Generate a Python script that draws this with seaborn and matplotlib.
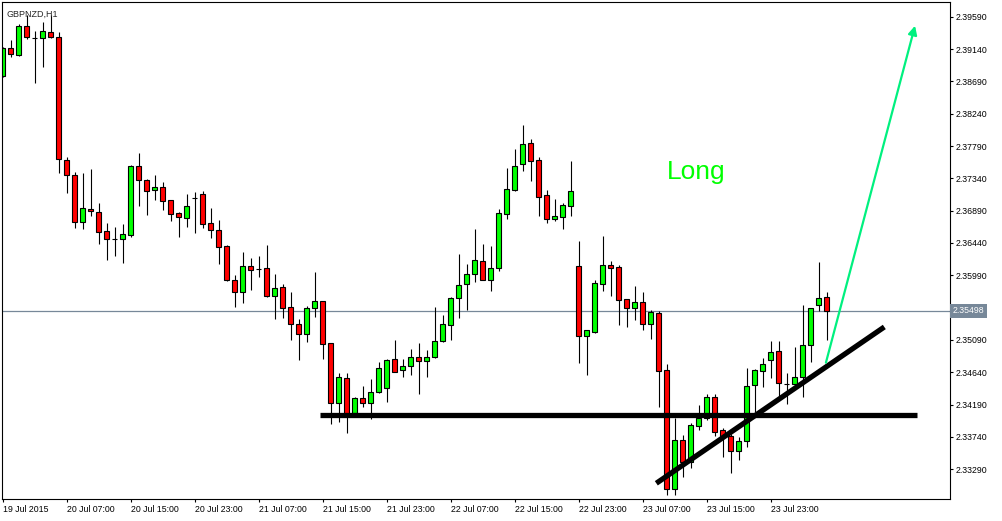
import matplotlib
matplotlib.use('Agg')
import matplotlib.pyplot as plt
import seaborn as sns
import numpy as np

# GBPNZD H1, bars from 19 Jul 2015 23:00 onwards (one per hour)
opens = [2.38765, 2.39150, 2.39053, 2.39461, 2.39298, 2.39289, 2.39373, 2.39303, 2.37591, 2.37387,
         2.36728, 2.36913, 2.36867, 2.36607, 2.36500, 2.36500, 2.36547, 2.37512, 2.37317, 2.37182,
         2.37215, 2.37034, 2.36858, 2.36792, 2.37066, 2.37122, 2.36718, 2.36621, 2.36398, 2.35921,
         2.35762, 2.36116, 2.36074, 2.36092, 2.35706, 2.35823, 2.35545, 2.35308, 2.35169, 2.35531,
         2.35628, 2.35044, 2.34209, 2.34557, 2.34069, 2.34278, 2.34209, 2.34362, 2.34417, 2.34821,
         2.34668, 2.34724, 2.34849, 2.34793, 2.34849, 2.35072, 2.35294, 2.35670, 2.35865, 2.36004,
         2.36185, 2.35929, 2.36088, 2.36839, 2.37182, 2.37535, 2.37828, 2.37595, 2.37108, 2.36770,
         2.36806, 2.36951, 2.36116, 2.35150, 2.35205, 2.35873, 2.36134, 2.36106, 2.35656, 2.35531,
         2.35614, 2.35319, 2.35466, 2.34668, 2.33011, 2.33694, 2.33387, 2.33897, 2.34000, 2.34296,
         2.33833, 2.33757, 2.33540, 2.33680, 2.34459, 2.34662, 2.34807, 2.34932, 2.34481, 2.34473,
         2.34571, 2.35016, 2.35573, 2.35684]
highs = [2.39168, 2.39266, 2.39488, 2.39614, 2.39395, 2.39512, 2.39614, 2.39377, 2.37641, 2.37428,
         2.37414, 2.37470, 2.36997, 2.36718, 2.36659, 2.36704, 2.37526, 2.37693, 2.37331, 2.37391,
         2.37289, 2.37040, 2.36876, 2.37122, 2.37146, 2.37164, 2.36927, 2.36760, 2.36408, 2.35995,
         2.36315, 2.36231, 2.36259, 2.36412, 2.36008, 2.35869, 2.35758, 2.35382, 2.35563, 2.36036,
         2.35635, 2.35050, 2.34626, 2.34630, 2.34300, 2.34449, 2.34547, 2.34779, 2.34829, 2.35090,
         2.34825, 2.34964, 2.35044, 2.34951, 2.35545, 2.35438, 2.35688, 2.36287, 2.36148, 2.36635,
         2.36426, 2.36398, 2.36913, 2.37480, 2.37748, 2.38083, 2.37888, 2.37641, 2.37178, 2.37052,
         2.37001, 2.37581, 2.36468, 2.35157, 2.35925, 2.36537, 2.36189, 2.36129, 2.35662, 2.35841,
         2.35758, 2.35503, 2.35498, 2.34756, 2.34000, 2.33767, 2.33930, 2.34185, 2.34338, 2.34338,
         2.33861, 2.33781, 2.33735, 2.34700, 2.34682, 2.34839, 2.35076, 2.35076, 2.34626, 2.34988,
         2.35573, 2.35535, 2.36175, 2.35758]
lows = [2.38751, 2.39025, 2.39050, 2.39275, 2.38663, 2.38894, 2.39289, 2.37410, 2.37140, 2.36653,
        2.36635, 2.36820, 2.36422, 2.36199, 2.36263, 2.36166, 2.36528, 2.36959, 2.36834, 2.37039,
        2.36899, 2.36750, 2.36528, 2.36667, 2.36583, 2.36653, 2.36514, 2.36152, 2.35915, 2.35553,
        2.35609, 2.35790, 2.35971, 2.35692, 2.35382, 2.35400, 2.35090, 2.34811, 2.35062, 2.35406,
        2.34825, 2.33920, 2.33952, 2.33799, 2.34032, 2.34161, 2.33986, 2.34355, 2.34231, 2.34640,
        2.34579, 2.34603, 2.34342, 2.34579, 2.34840, 2.35065, 2.35094, 2.35400, 2.35507, 2.35901,
        2.35918, 2.35776, 2.36054, 2.36778, 2.37168, 2.37446, 2.37307, 2.36816, 2.36723, 2.36746,
        2.36639, 2.36816, 2.34774, 2.34607, 2.35183, 2.35776, 2.35706, 2.35303, 2.35275, 2.35368,
        2.35233, 2.35097, 2.34161, 2.32932, 2.32932, 2.33187, 2.33304, 2.33837, 2.33976, 2.33757,
        2.33465, 2.33234, 2.33419, 2.33604, 2.34083, 2.34431, 2.34557, 2.34278, 2.34203, 2.34422,
        2.34300, 2.34788, 2.35489, 2.35085]
closes = [2.39150, 2.39067, 2.39461, 2.39303, 2.39298, 2.39387, 2.39303, 2.37605, 2.37382, 2.36728,
          2.36923, 2.36881, 2.36589, 2.36491, 2.36500, 2.36561, 2.37512, 2.37313, 2.37168, 2.37215,
          2.37029, 2.36839, 2.36806, 2.36955, 2.37066, 2.36709, 2.36617, 2.36388, 2.35921, 2.35762,
          2.36116, 2.36068, 2.36074, 2.35706, 2.35809, 2.35539, 2.35308, 2.35169, 2.35531, 2.35628,
          2.35030, 2.34209, 2.34571, 2.34060, 2.34287, 2.34209, 2.34362, 2.34696, 2.34811, 2.34648,
          2.34724, 2.34849, 2.34793, 2.34849, 2.35076, 2.35308, 2.35670, 2.35855, 2.36004, 2.36199,
          2.35929, 2.36088, 2.36853, 2.37187, 2.37508, 2.37814, 2.37586, 2.37084, 2.36770, 2.36812,
          2.36965, 2.37160, 2.35150, 2.35225, 2.35879, 2.36129, 2.36096, 2.35651, 2.35531, 2.35614,
          2.35319, 2.35475, 2.34654, 2.33011, 2.33694, 2.33387, 2.33907, 2.34000, 2.34296, 2.33813,
          2.33753, 2.33540, 2.33680, 2.34445, 2.34668, 2.34751, 2.34918, 2.34487, 2.34481, 2.34575,
          2.35016, 2.35531, 2.35670, 2.35498]

x_tick_labels = ['19 Jul 2015', '20 Jul 07:00', '20 Jul 15:00', '20 Jul 23:00', '21 Jul 07:00',
                 '21 Jul 15:00', '21 Jul 23:00', '22 Jul 07:00', '22 Jul 15:00', '22 Jul 23:00',
                 '23 Jul 07:00', '23 Jul 15:00', '23 Jul 23:00']
y_ticks = [2.33290, 2.33740, 2.34190, 2.34640, 2.35090, 2.35540, 2.35990, 2.36440,
           2.36890, 2.37340, 2.37790, 2.38240, 2.38690, 2.39140, 2.39590]

# drawn objects (bar index, price)
support_x = [39.66, 114.3]
support_y = [2.34040, 2.34040]
trend_x = [81.7, 110.2]
trend_y = [2.33095, 2.35271]
arrow_from = (102.9, 2.34774)
arrow_to = (114.04, 2.39465)
long_pos = (86.7, 2.37428)

sns.set_style('white')
plt.rcParams['font.family'] = ['Liberation Sans', 'DejaVu Sans']

fig = plt.figure(figsize=(10.03, 5.21), dpi=100)
ax = fig.add_axes([2 / 1003, 22 / 521, 948 / 1003, 497 / 521])

idx = np.arange(len(closes))
o = np.array(opens)
c = np.array(closes)
cols = np.where(c > o, '#00ff00', np.where(c < o, '#ff0000', 'black'))

# фитили и тела свечей
ax.vlines(idx, lows, highs, color='black', lw=0.8, zorder=1)
ax.bar(idx, c - o, bottom=o, width=0.625, color=cols, edgecolor='black', linewidth=0.8, zorder=2)

# линия текущей цены
ax.axhline(closes[-1], color='#778899', lw=0.9, zorder=0.5)
ax.text(1.003, closes[-1], '%.5f' % closes[-1], transform=ax.get_yaxis_transform(),
        ha='left', va='center', color='white', fontsize=6.3, zorder=5, clip_on=False,
        bbox=dict(boxstyle='square,pad=0.3', facecolor='#778899', edgecolor='none'))

# уровни
ax.plot(support_x, support_y, color='black', lw=3.8, solid_capstyle='butt', zorder=3)
ax.plot(trend_x, trend_y, color='black', lw=3.8, solid_capstyle='butt', zorder=3)
ax.annotate('', xy=arrow_to, xytext=arrow_from,
            arrowprops=dict(arrowstyle='-|>', color='#00f07f', lw=1.6, mutation_scale=13,
                            shrinkA=0, shrinkB=0), zorder=4)
ax.text(long_pos[0], long_pos[1], 'Long', color='#00ff00', fontsize=19, ha='center', va='center')

ax.text(0.005, 0.985, 'GBPNZD,H1', transform=ax.transAxes, fontsize=6.5, ha='left', va='top')

ax.set_xlim(-0.0875, 118.41)
ax.set_ylim(2.32876, 2.39795)
ax.set_xticks(np.arange(0, 8 * len(x_tick_labels), 8))
ax.set_xticklabels(x_tick_labels, ha='left')
ax.yaxis.tick_right()
ax.set_yticks(y_ticks)
# метка 2.35540 закрыта плашкой текущей цены
ax.set_yticklabels(['' if abs(v - closes[-1]) < 0.0008 else '%.5f' % v for v in y_ticks])
ax.tick_params(axis='both', direction='out', length=2.5, width=0.8, color='black',
               labelsize=6.3, labelcolor='black', pad=1.5)
ax.tick_params(axis='x', bottom=True, pad=2)
ax.tick_params(axis='y', right=True)
for s in ax.spines.values():
    s.set_visible(True)
    s.set_color('black')
    s.set_linewidth(0.8)
ax.grid(False)

fig.savefig('out.png', dpi=100)
